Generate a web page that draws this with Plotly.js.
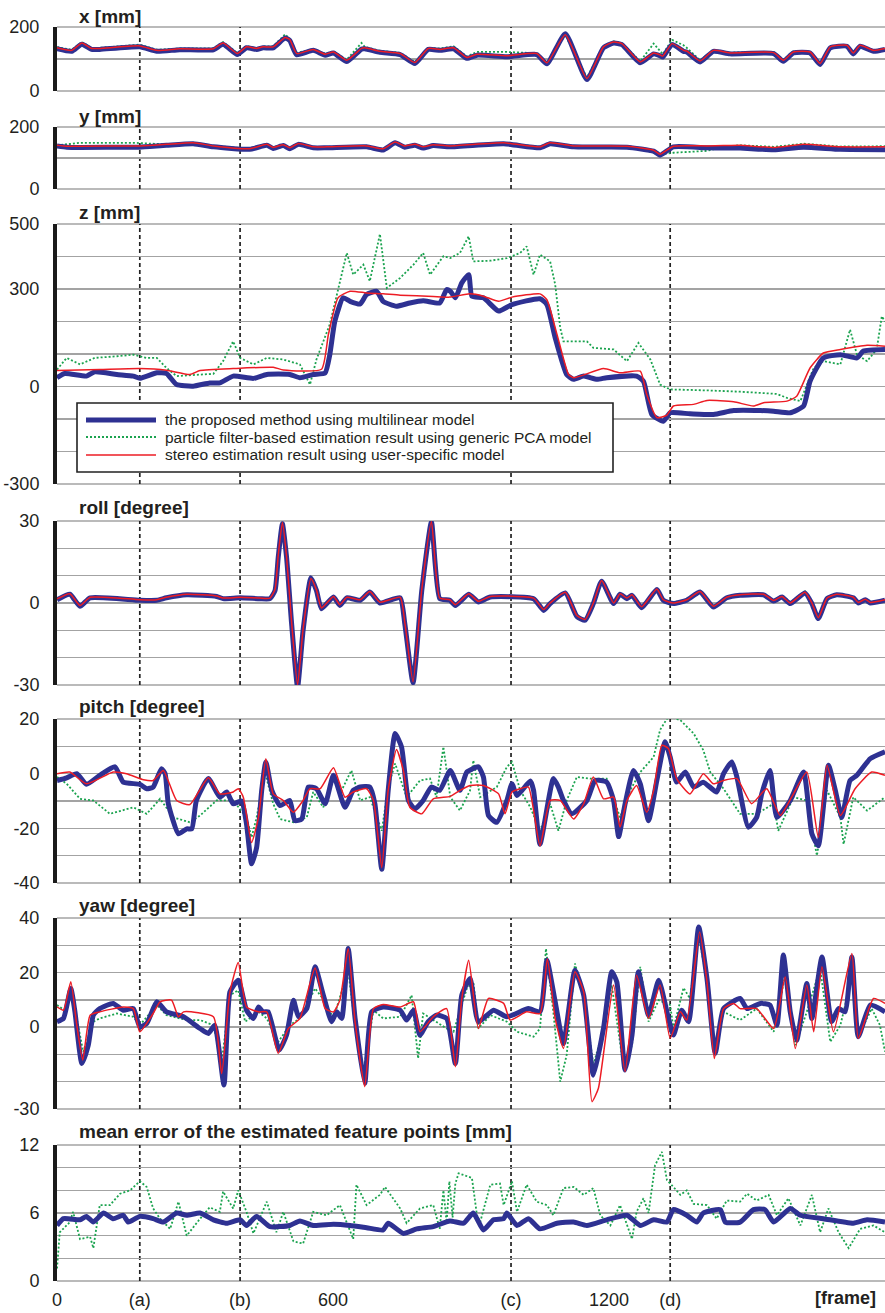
<!DOCTYPE html>
<html><head><meta charset="utf-8">
<script src="https://cdn.plot.ly/plotly-3.0.1.min.js"></script>
<style>html,body{margin:0;padding:0;background:#fff}</style>
</head><body><div id="chart" style="width:885px;height:1313px"></div>
<script>
// ---------- data (frame numbers and values) ----------
const markerFrames = [180, 398, 987, 1333];
const xTickVals = [0, 180, 398, 600, 987, 1200, 1333];
const xTickText = ['0', '(a)', '(b)', '600', '(c)', '1200', '(d)'];

const seriesNames = ['the proposed method using multilinear model',
  'particle filter-based estimation result using generic PCA model',
  'stereo estimation result using user-specific model'];

// x [mm]
const x_f = [0,32,54,75,93,180,217,267,340,361,392,412,434,448,470,496,506,521,557,583,601,630,662,669,702,746,778,807,833,862,891,913,978,1043,1065,1105,1152,1188,1210,1228,1268,1297,1311,1317,1337,1362,1369,1398,1427,1463,1558,1579,1601,1637,1659,1681,1717,1731,1746,1775,1800];
const x_blue = [132,124,146,130,130,138,124,129,129,146,114,135,130,135,135,166,158,113,127,112,119,92,131,132,121,114,86,130,127,132,102,112,107,114,85,179,36,135,150,145,88,116,110,106,145,124,122,91,124,116,117,93,119,119,83,135,140,116,140,124,130];
const x_green = [137,129,153,135,135,145,129,133,133,153,119,140,134,139,140,177,163,119,131,117,124,98,150,138,126,119,91,135,133,140,108,122,122,118,90,175,42,140,155,150,93,148,125,115,160,143,135,96,128,120,122,98,124,120,84,136,141,118,142,127,132];
const x_red = [135,127,150,133,133,141,127,132,132,150,117,138,133,138,138,167,161,117,130,115,122,96,133,135,124,117,89,133,130,135,105,115,110,117,88,176,39,138,153,148,91,119,113,109,148,127,125,94,127,119,120,96,122,122,86,138,143,119,143,127,133];

// y [mm]
const y_f = [0,21,50,166,180,238,296,340,419,456,470,492,506,525,557,586,673,709,735,756,778,796,818,854,971,1050,1072,1123,1239,1297,1311,1340,1413,1449,1485,1558,1623,1703,1800];
const y_blue = [139,135,134,135,135,141,146,136,128,141,131,140,130,144,133,133,136,126,149,135,141,132,140,136,146,133,146,136,135,122,109,136,133,132,132,127,135,128,127];
const y_green = [141,145,149,149,148,144,149,139,130,145,134,143,133,148,136,136,139,123,152,139,144,136,143,139,149,136,149,139,138,117,112,117,123,136,141,136,146,137,138];
const y_red = [141,138,138,139,139,144,149,139,130,144,134,143,133,147,136,136,139,130,152,139,144,136,143,139,149,136,149,139,138,125,112,138,139,140,141,134,144,136,136];

// z [mm]  ([frame, value] pairs)
const z_blue = [[0,27],[17,40],[64,32],[82,45],[130,37],[166,32],[180,25],[217,42],[238,40],[260,6],[296,1],[332,11],[354,11],[383,32],[427,25],[456,37],[506,37],[528,27],[557,37],[583,42],[593,98],[604,201],[622,273],[637,262],[659,254],[673,283],[695,293],[709,262],[738,247],[767,257],[796,264],[832,257],[847,298],[855,293],[866,273],[880,319],[895,344],[902,278],[927,273],[960,232],[989,252],[1050,270],[1065,252],[1083,150],[1108,37],[1123,22],[1145,32],[1174,22],[1195,27],[1260,32],[1275,16],[1293,-86],[1318,-107],[1333,-81],[1376,-84],[1427,-86],[1471,-74],[1529,-74],[1558,-76],[1594,-81],[1623,-60],[1637,16],[1666,88],[1703,98],[1739,88],[1753,109],[1800,114]];
const z_green = [[0,52],[21,88],[50,68],[82,88],[130,93],[166,98],[195,88],[217,88],[238,57],[260,32],[340,39],[361,78],[383,139],[398,88],[427,68],[456,88],[492,83],[528,68],[550,6],[564,83],[593,191],[615,324],[630,411],[644,344],[666,375],[680,324],[702,469],[717,303],[746,334],[775,375],[796,411],[811,344],[840,401],[855,395],[876,411],[895,462],[905,385],[942,387],[978,395],[1007,411],[1021,431],[1036,344],[1050,406],[1072,385],[1083,314],[1094,180],[1101,139],[1152,139],[1166,119],[1210,114],[1239,78],[1264,134],[1290,83],[1311,6],[1333,-9],[1413,-12],[1485,-16],[1565,-23],[1587,-35],[1616,-45],[1645,57],[1666,78],[1703,68],[1724,175],[1739,98],[1761,78],[1782,114],[1793,216],[1800,200]];
const z_red = [[0,49],[93,52],[180,55],[238,50],[289,37],[311,49],[383,55],[470,59],[492,51],[575,53],[590,160],[611,273],[637,293],[673,288],[709,285],[746,281],[818,277],[854,275],[898,285],[927,278],[960,262],[989,275],[1050,285],[1065,267],[1087,160],[1112,37],[1123,27],[1188,55],[1224,42],[1268,47],[1282,-25],[1304,-96],[1326,-88],[1340,-60],[1384,-55],[1413,-43],[1471,-47],[1514,-60],[1536,-50],[1587,-45],[1608,-30],[1637,57],[1666,103],[1703,114],[1761,127],[1800,124]];

// roll [degree]
const roll_f = [0,28,50,72,180,217,238,282,347,361,398,441,463,474,481,490,499,510,523,535,552,564,575,601,615,630,659,680,702,746,756,774,793,814,832,854,866,895,916,942,1036,1058,1072,1105,1130,1148,1166,1184,1210,1224,1239,1250,1271,1304,1318,1340,1369,1398,1427,1456,1485,1536,1558,1576,1594,1626,1641,1655,1674,1695,1731,1742,1757,1768,1800];
const roll_blue = [1.2,3.2,-1.2,1.9,1.0,1.0,1.9,3.0,2.4,1.6,1.9,1.6,1.6,4.6,16.8,29,16.8,-7.5,-30.7,-10,9.2,4.6,-2.1,2.2,-0.9,1.9,1.0,4.0,0,1.9,-7.5,-29.2,4.6,29.6,1.6,1.0,-0.9,3.2,0.4,2.2,1.6,-2.7,-0.2,3.7,-4.9,-6.3,-0.2,8.0,-0.2,3.2,1.6,2.8,-1.7,4.9,1.0,-0.2,1.0,4.0,-1.5,1.9,2.8,3.0,0.7,2.2,-0.2,3.7,-0.2,-5.7,1.6,3.0,1.9,0,1.2,0,1.0];
const roll_green = [1.3,3.3,-1.0,2.0,1.1,1.1,2.0,3.1,2.5,1.8,2.0,1.7,1.7,4.8,17.0,29.2,17.0,-7.2,-30.2,-9.8,9.1,4.7,-1.9,2.3,-0.7,2.0,1.1,4.3,0.2,2.0,-7.2,-29.0,4.8,29.6,1.7,1.1,-0.7,3.4,0.5,2.3,1.8,-2.5,0.1,4.3,-4.7,-6.1,0,8.1,0.2,3.4,1.8,3.1,-1.5,5.1,1.1,0.3,1.2,4.4,-1.3,2.1,3.0,3.3,1.0,2.9,0.2,4.3,0,-5.5,2.3,3.2,2.0,0.2,1.4,0.2,1.1];
const roll_red = [1.5,3.4,-0.9,2.1,1.2,1.2,2.1,3.2,2.6,1.8,2.1,1.8,1.8,5.0,17.5,29.5,17.0,-7.0,-30.0,-9.5,9.0,4.8,-1.8,2.4,-0.6,2.1,1.2,4.2,0.3,2.1,-7.0,-28.8,5.0,29.8,1.8,1.2,-0.6,3.4,0.6,2.4,1.8,-2.4,0,3.9,-4.6,-6.0,0,8.2,0,3.4,1.8,3.0,-1.4,5.1,1.2,0,1.2,4.2,-1.2,2.1,3.0,3.2,0.9,2.4,0,3.9,0,-5.4,1.8,3.2,2.1,0.2,1.4,0.2,1.2];

// pitch [degree]
const pitch_blue = [[0,-2.5],[21,-1.5],[43,0],[64,-3.9],[93,-0.6],[126,2.5],[144,-3.1],[180,-3.9],[195,-5.5],[209,-4.9],[227,1.8],[235,0],[242,-11],[264,-22],[282,-20.2],[293,-20.2],[303,-9.8],[329,-1.8],[354,-8.6],[369,-6.7],[383,-11],[401,-10],[412,-18.4],[423,-33],[434,-27],[445,-6.1],[454,4.3],[467,-6.1],[485,-11.7],[506,-9.8],[517,-17.2],[532,-16.6],[546,-4.9],[564,-5.5],[583,-11],[601,-0.6],[626,-12.3],[644,-6.1],[659,-4.9],[680,-4.9],[691,-11],[706,-35],[720,-6.1],[735,14.7],[749,9.8],[764,-9.8],[778,-12.9],[796,-9.8],[814,-4.9],[832,-6.1],[855,1.2],[876,-6.1],[891,0.6],[916,2.5],[927,-1.2],[938,-15.3],[956,-17.8],[978,-9.8],[989,-3.7],[1000,-8],[1029,-2.7],[1036,-6.1],[1050,-25.8],[1079,-1.8],[1090,-4.9],[1101,-9.8],[1119,-14.7],[1152,-9.8],[1170,-2.5],[1195,-3.1],[1210,-9.8],[1221,-23],[1235,-11],[1253,1.2],[1268,-3.7],[1286,-17.2],[1304,-2.5],[1322,11.7],[1333,6.1],[1347,-3.1],[1366,0.6],[1384,-4.9],[1405,-3.1],[1434,-6.7],[1449,0],[1467,4.3],[1478,-1.2],[1503,-19.6],[1521,-16],[1532,-7.4],[1550,1.2],[1565,-16],[1594,-9.8],[1623,0.6],[1641,-22],[1655,-26.4],[1677,3.1],[1692,-6.1],[1706,-16],[1724,-2.5],[1739,-0.6],[1768,5.5],[1800,8]];
const pitch_green = [[0,-1.2],[21,-3.7],[50,-9.2],[79,-9.8],[115,-14.7],[166,-12.3],[195,-14.7],[224,-9.2],[253,-16],[289,-17.8],[311,-15.3],[347,-9.8],[383,-9.8],[412,-16],[423,-23.3],[434,-16],[452,0.6],[470,-11],[485,-16.6],[514,-17.8],[543,-16],[557,-6.7],[579,-12.3],[601,-0.6],[615,-7.4],[640,1.2],[659,-9.8],[680,-8.6],[706,-20.9],[720,-4.9],[735,3.7],[760,-8.6],[789,-2.5],[811,-1.8],[825,-8.6],[840,9.8],[855,-8.6],[876,-13.5],[898,-6.1],[905,4.9],[920,-8.6],[956,-4.9],[978,2.5],[989,4.3],[1007,-6.1],[1029,-12.3],[1050,-20.9],[1072,-11],[1090,-20.9],[1108,-9.8],[1130,-1.2],[1159,-1.8],[1195,-1.8],[1224,-16],[1246,-6.1],[1268,0.6],[1297,6.1],[1311,16],[1329,20.9],[1355,19.6],[1384,14.7],[1405,8.6],[1420,0.6],[1434,-2.5],[1449,-5.5],[1485,-14.7],[1521,-14.7],[1558,-11],[1568,-20.9],[1601,-8.6],[1630,-9.8],[1652,-30],[1674,-6.1],[1703,-16],[1710,-25.8],[1731,-8.6],[1761,-13.5],[1800,-8.6]];
const pitch_red = [[0,0],[28,0.6],[64,-3.7],[122,0.6],[151,0],[188,-2.2],[209,-2.5],[231,1.2],[260,-9.8],[289,-11.3],[329,-1.5],[354,-7.4],[383,-6.7],[394,-5.5],[405,-8.6],[423,-25.2],[438,-16],[454,5.5],[470,-7.4],[492,-9.8],[514,-14.1],[535,-9.8],[550,-5.5],[572,-5.5],[601,2.2],[626,-8.6],[644,-6.7],[673,-5.5],[688,-9.8],[706,-34.4],[720,-6.1],[738,8.8],[753,1.2],[767,-12.3],[793,-14.7],[818,-9.2],[855,-8.3],[876,-6.1],[898,-4.3],[927,-4.3],[960,-7.4],[974,-14.7],[989,-6.7],[1007,-5.5],[1025,-4.9],[1050,-26.4],[1072,-9.8],[1094,-9.8],[1123,-16.6],[1145,-11],[1166,-1.2],[1188,-9.2],[1210,-8.6],[1224,-19.6],[1239,-9.8],[1260,-4.3],[1282,-14.1],[1297,-6.1],[1315,10.4],[1329,9.2],[1347,-1.8],[1376,-7.4],[1405,0],[1427,-3.7],[1449,-2.5],[1478,-1.8],[1510,-11],[1543,-5.5],[1572,-15.3],[1597,-8.6],[1630,0.6],[1655,-23.3],[1674,3.1],[1703,-15.3],[1735,-5.5],[1771,0.6],[1800,-0.6]];

// yaw [degree]
const yaw_blue = [[0,2],[14,3.2],[30,14.2],[39,5.6],[54,-13.3],[68,-6.6],[79,4.4],[93,6.8],[122,8.7],[144,6.2],[166,6.8],[180,0.1],[195,1.3],[217,9.3],[238,5.6],[275,3.8],[311,-0.5],[329,-2.3],[343,0.7],[363,-21.2],[376,12.9],[394,17.2],[412,6.2],[427,3.2],[438,7.4],[448,5.6],[459,5.6],[483,-8.4],[499,-2.9],[514,9.9],[525,3.8],[543,6.8],[561,22.1],[579,11.7],[597,2],[608,5.6],[619,3.2],[633,28.8],[648,3.2],[669,-20.6],[684,5.6],[709,7.4],[746,6.2],[760,2.6],[775,6.2],[789,-2.9],[807,2],[825,4.4],[847,3.2],[866,-13.3],[880,11.7],[898,17.8],[916,2],[949,6.2],[978,3.8],[1025,6.8],[1050,5.6],[1065,24.5],[1083,9.3],[1101,-6],[1126,20.9],[1145,11.7],[1166,-17.6],[1188,-0.5],[1206,20.3],[1217,16.6],[1235,-15.7],[1250,-2.9],[1264,20.3],[1286,4.4],[1308,17.2],[1326,5.6],[1340,-2.9],[1358,6.2],[1373,2],[1395,36.7],[1413,17.8],[1431,-9.6],[1449,6.8],[1485,10.5],[1500,6.8],[1529,8.7],[1550,8.1],[1565,0.7],[1579,26.4],[1594,5.6],[1608,-4.8],[1630,16],[1641,3.2],[1663,25.7],[1684,2],[1699,6.8],[1713,5.6],[1728,25.7],[1742,-3.5],[1768,8.1],[1800,5.6]];
const yaw_green = [[0,8.1],[21,5.6],[30,14.2],[57,-9],[79,2],[93,3.2],[130,5],[166,3.8],[180,0.7],[217,8.1],[238,4.4],[282,2.6],[311,2.6],[340,0.7],[358,-12.7],[376,11.7],[394,13.5],[409,2],[438,5.6],[456,3.2],[481,-5.4],[506,0.7],[528,3.2],[561,14.2],[583,9.3],[601,3.2],[633,20.9],[648,0.7],[666,-16.3],[688,6.2],[709,3.2],[746,3.8],[771,11.7],[785,-11.5],[796,5],[847,-0.5],[862,-1.7],[891,14.2],[905,16.6],[916,-0.5],[942,4.4],[978,2],[1000,-1.7],[1036,-3.5],[1050,-0.5],[1063,28.8],[1079,5.6],[1094,-20],[1108,-10.2],[1126,23.3],[1145,11.7],[1166,-13.9],[1188,-0.5],[1206,15.4],[1232,-15.1],[1250,-6.6],[1268,22.1],[1286,2],[1308,9.9],[1333,8.1],[1340,-0.5],[1362,14.4],[1376,10.5],[1395,33.7],[1413,16.6],[1429,-9.6],[1449,5.6],[1485,2.6],[1521,6.8],[1558,-1.7],[1583,19],[1605,-6.6],[1630,5.6],[1659,21.5],[1681,-5.4],[1703,0.7],[1728,18.4],[1742,-3.5],[1771,6.8],[1789,0.7],[1800,-9]];
const yaw_red = [[0,7.4],[14,6.2],[30,16.6],[43,0.7],[56,-12.1],[72,4.4],[93,5.6],[144,7.4],[166,6.8],[180,-1.7],[209,5],[224,9.3],[249,9.9],[264,3.8],[275,5.6],[340,3.8],[358,-17],[376,12.9],[394,23.7],[412,7.4],[438,5.6],[456,5.6],[481,-9.6],[503,-0.5],[528,3.2],[561,21.7],[583,6.8],[601,5.6],[615,9.9],[633,28.8],[648,2],[669,-21.8],[688,6.8],[709,8.3],[746,7.4],[775,9.3],[789,-1.7],[818,3.8],[847,6.8],[866,-14.5],[880,10.5],[895,24.5],[916,-0.5],[938,10.5],[971,8.7],[985,2.6],[1021,5.6],[1050,5],[1066,25.1],[1083,3.2],[1101,-7.8],[1126,20.3],[1145,12.9],[1163,-27.3],[1177,-22.4],[1210,15.4],[1235,-16.3],[1260,19],[1286,3.2],[1311,15.4],[1333,-4.1],[1355,5.6],[1369,2.6],[1397,34.9],[1413,16.6],[1429,-11.5],[1449,6.8],[1471,8.7],[1485,6.8],[1521,6.8],[1558,-0.5],[1583,18.4],[1605,-7.8],[1630,15.4],[1645,-1.7],[1663,22.1],[1688,-1.7],[1728,27],[1742,-4.1],[1775,10.5],[1800,8.7]];

// mean error of the estimated feature points [mm]
const err_blue = [[0,4.9],[14,5.5],[50,5.4],[64,5.7],[79,5.2],[101,6.0],[122,5.5],[144,5.8],[155,5.2],[180,5.7],[209,5.5],[231,5.2],[260,6.0],[282,5.8],[311,6.0],[340,5.4],[369,5.1],[398,5.4],[412,4.9],[434,5.7],[463,4.8],[506,4.9],[528,5.3],[557,4.9],[601,5.0],[637,4.9],[673,4.7],[709,4.5],[720,5.1],[753,4.2],[782,4.6],[818,4.8],[854,5.3],[884,5.1],[905,6.0],[927,4.5],[949,5.4],[971,5.5],[978,6.0],[1000,4.9],[1025,5.5],[1050,4.6],[1087,5.1],[1123,5.2],[1152,4.9],[1195,5.4],[1239,5.8],[1268,4.9],[1297,5.4],[1326,5.2],[1340,6.3],[1369,5.8],[1391,5.2],[1405,6.0],[1442,6.3],[1453,5.2],[1485,5.2],[1514,6.3],[1539,6.3],[1558,5.2],[1594,6.4],[1616,5.8],[1666,5.5],[1731,5.1],[1761,5.4],[1800,5.2]];
const err_green = [[0,1.1],[6,4.3],[28,5.2],[35,6.1],[50,3.7],[72,3.9],[79,2.9],[93,6.7],[115,6.7],[137,7.7],[159,8.0],[180,8.8],[195,8.3],[209,6.4],[224,5.5],[246,4.6],[264,7.0],[282,4.0],[311,5.5],[332,6.5],[354,6.1],[361,7.9],[383,6.4],[394,8.0],[412,6.1],[427,4.2],[456,7.0],[477,4.3],[492,6.1],[514,3.5],[535,3.3],[557,6.1],[586,5.8],[615,6.7],[644,3.7],[651,8.5],[673,6.7],[702,7.6],[713,8.3],[746,6.4],[760,5.1],[789,6.4],[818,6.7],[832,4.6],[840,8.0],[847,5.2],[853,8.8],[860,5.6],[866,8.6],[873,9.5],[902,9.1],[913,5.8],[920,5.2],[942,8.5],[963,8.6],[971,6.7],[989,8.8],[1000,6.1],[1021,8.5],[1043,7.0],[1065,6.7],[1079,5.8],[1101,8.2],[1123,8.3],[1145,7.6],[1166,8.2],[1181,5.8],[1203,4.9],[1224,6.7],[1250,3.7],[1260,6.1],[1275,7.3],[1286,6.0],[1300,10.2],[1315,11.4],[1326,8.9],[1340,8.3],[1355,7.6],[1369,8.0],[1384,6.8],[1413,6.7],[1434,5.5],[1456,7.1],[1485,7.0],[1500,7.7],[1521,7.1],[1547,7.6],[1565,5.8],[1590,7.3],[1616,4.9],[1641,7.6],[1659,4.3],[1677,6.4],[1699,4.3],[1721,2.9],[1746,4.6],[1775,4.9],[1800,4.3]];

// ---------- styling / layout ----------
const FONT = 'Liberation Sans, Arial, Helvetica, sans-serif';
const TXT = '#231f20';
const BLUE = '#2e3192', RED = '#ed1c24', GREEN = '#1ba34f';
const GRID = '#a3a3a3';
const W = 885, H = 1313, ML = 57;
const PW = W - ML;
const px2x = p => (p - ML) / PW;
const px2y = p => 1 - p / H;

const STY = {
  blue: {color: BLUE, width: 5, shape: 'spline', smoothing: 0.5},
  green: {color: GREEN, width: 1.8, dash: '2px,2px'},
  red: {color: RED, width: 1.5, shape: 'spline', smoothing: 0.5}
};
const NAME = {blue: seriesNames[0], green: seriesNames[1], red: seriesNames[2]};

function tr(xs, ys, ax, kind) {
  return {type: 'scatter', mode: 'lines', x: xs, y: ys, xaxis: 'x', yaxis: ax,
    name: NAME[kind], showlegend: false, hoverinfo: 'skip', line: STY[kind]};
}
function trP(pairs, ax, kind) {
  return tr(pairs.map(p => p[0]), pairs.map(p => p[1]), ax, kind);
}

// panels: pixel top / bottom of each plot area, range, grid step, labelled ticks, title
const panels = [
  {ax: 'y',  top: 27,   bot: 91,   range: [0, 200],   step: 100, labels: [0, 200], title: 'x [mm]', tY: 17},
  {ax: 'y2', top: 127,  bot: 189,  range: [0, 200],   step: 100, labels: [0, 200], title: 'y [mm]', tY: 116},
  {ax: 'y3', top: 224,  bot: 484,  range: [-300, 500], step: 100, labels: [-300, 0, 300, 500], title: 'z [mm]', tY: 212},
  {ax: 'y4', top: 521,  bot: 685,  range: [-30, 30],  step: 10, labels: [-30, 0, 30], title: 'roll [degree]', tY: 507},
  {ax: 'y5', top: 719,  bot: 883,  range: [-40, 20],  step: 10, labels: [-40, -20, 0, 20], title: 'pitch [degree]', tY: 706},
  {ax: 'y6', top: 918,  bot: 1109, range: [-30, 40],  step: 10, labels: [-30, 0, 20, 40], title: 'yaw [degree]', tY: 905},
  {ax: 'y7', top: 1145, bot: 1281, range: [0, 12],    step: 2, labels: [0, 6, 12], title: 'mean error of the estimated feature points [mm]', tY: 1131}
];

const traces = [
  tr(x_f, x_green, 'y', 'green'), tr(x_f, x_blue, 'y', 'blue'), tr(x_f, x_red, 'y', 'red'),
  tr(y_f, y_green, 'y2', 'green'), tr(y_f, y_blue, 'y2', 'blue'), tr(y_f, y_red, 'y2', 'red'),
  trP(z_green, 'y3', 'green'), trP(z_blue, 'y3', 'blue'), trP(z_red, 'y3', 'red'),
  tr(roll_f, roll_green, 'y4', 'green'), tr(roll_f, roll_blue, 'y4', 'blue'), tr(roll_f, roll_red, 'y4', 'red'),
  trP(pitch_green, 'y5', 'green'), trP(pitch_blue, 'y5', 'blue'), trP(pitch_red, 'y5', 'red'),
  trP(yaw_green, 'y6', 'green'), trP(yaw_blue, 'y6', 'blue'), trP(yaw_red, 'y6', 'red'),
  trP(err_green, 'y7', 'green'), trP(err_blue, 'y7', 'blue')
];

const layout = {
  width: W, height: H,
  margin: {l: ML, r: 0, t: 0, b: 0},
  paper_bgcolor: '#fff', plot_bgcolor: '#fff',
  font: {family: FONT, color: TXT, size: 18},
  showlegend: false,
  xaxis: {range: [0, 1800], domain: [0, 1], anchor: 'y7', showgrid: false, zeroline: false,
    showline: false, tickvals: xTickVals, ticktext: xTickText, ticks: 'outside', ticklen: 2,
    tickcolor: 'rgba(0,0,0,0)', tickfont: {family: FONT, size: 18, color: TXT}, fixedrange: true},
  shapes: [], annotations: []
};

panels.forEach((p, i) => {
  const key = i === 0 ? 'yaxis' : 'yaxis' + (i + 1);
  const vals = [], txt = [];
  for (let v = p.range[0]; v <= p.range[1] + 1e-9; v += p.step) {
    vals.push(v); txt.push(p.labels.includes(v) ? String(v) : '');
  }
  layout[key] = {domain: [px2y(p.bot), px2y(p.top)], range: p.range, anchor: 'x',
    tickvals: vals, ticktext: txt, showgrid: true, gridcolor: GRID, gridwidth: 1.5,
    zeroline: false, showline: true, linecolor: '#1a1a1a', linewidth: 4,
    ticks: 'outside', ticklen: 10, tickcolor: 'rgba(0,0,0,0)',
    tickfont: {family: FONT, size: 18, color: TXT}, fixedrange: true};
  // grid lines at the top and bottom of each panel
  [p.top, p.bot].forEach(py => layout.shapes.push({type: 'line', layer: 'below', xref: 'paper', yref: 'paper',
    x0: 0, x1: 1, y0: px2y(py), y1: px2y(py), line: {color: GRID, width: 1.5}}));
  // dashed marker lines (a)-(d)
  markerFrames.forEach(f => layout.shapes.push({type: 'line', layer: 'below', xref: 'x', yref: 'paper',
    x0: f, x1: f, y0: px2y(p.bot), y1: px2y(p.top), line: {color: '#222', width: 1.7, dash: '4px,3px'}}));
  layout.annotations.push({xref: 'paper', yref: 'paper', x: px2x(77), y: px2y(p.tY), xanchor: 'left',
    yanchor: 'middle', showarrow: false, text: '<b>' + p.title + '</b>', font: {family: FONT, size: 19, color: TXT}});
});

// frame label
layout.annotations.push({xref: 'paper', yref: 'paper', x: px2x(878), y: px2y(1298), xanchor: 'right',
  yanchor: 'middle', showarrow: false, text: '<b>[frame]</b>', font: {family: FONT, size: 18, color: TXT}});

// legend box (drawn in the z panel)
layout.shapes.push({type: 'rect', layer: 'above', xref: 'paper', yref: 'paper',
  x0: px2x(77), x1: px2x(613), y0: px2y(472), y1: px2y(403), fillcolor: '#fff', line: {color: '#222', width: 1.6}});
const legRows = [{k: 'blue', y: 420}, {k: 'green', y: 437}, {k: 'red', y: 455}];
legRows.forEach(r => {
  layout.shapes.push({type: 'line', layer: 'above', xref: 'paper', yref: 'paper',
    x0: px2x(86), x1: px2x(156), y0: px2y(r.y), y1: px2y(r.y),
    line: {color: STY[r.k].color, width: STY[r.k].width, dash: STY[r.k].dash || 'solid'}});
  layout.annotations.push({xref: 'paper', yref: 'paper', x: px2x(163), y: px2y(r.y), xanchor: 'left',
    yanchor: 'middle', showarrow: false, text: NAME[r.k], font: {family: FONT, size: 15.5, color: TXT}});
});

Plotly.newPlot('chart', traces, layout, {displayModeBar: false, staticPlot: true});
</script></body></html>
